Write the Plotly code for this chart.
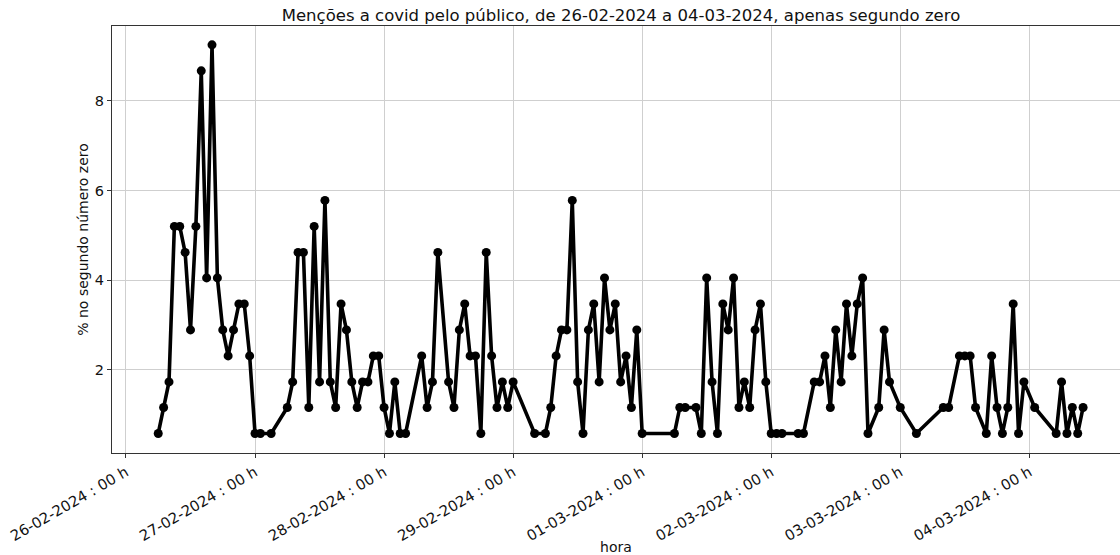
import plotly.graph_objects as go

# Hourly share of covid mentions (% no segundo número zero)
momentos = [
    # 26-02-2024
    "2024-02-26 06:00", "2024-02-26 07:00", "2024-02-26 08:00", "2024-02-26 09:00",
    "2024-02-26 10:00", "2024-02-26 11:00", "2024-02-26 12:00", "2024-02-26 13:00",
    "2024-02-26 14:00", "2024-02-26 15:00", "2024-02-26 16:00", "2024-02-26 17:00",
    "2024-02-26 18:00", "2024-02-26 19:00", "2024-02-26 20:00", "2024-02-26 21:00",
    "2024-02-26 22:00", "2024-02-26 23:00",
    # 27-02-2024
    "2024-02-27 00:00", "2024-02-27 01:00", "2024-02-27 03:00", "2024-02-27 06:00",
    "2024-02-27 07:00", "2024-02-27 08:00", "2024-02-27 09:00", "2024-02-27 10:00",
    "2024-02-27 11:00", "2024-02-27 12:00", "2024-02-27 13:00", "2024-02-27 14:00",
    "2024-02-27 15:00", "2024-02-27 16:00", "2024-02-27 17:00", "2024-02-27 18:00",
    "2024-02-27 19:00", "2024-02-27 20:00", "2024-02-27 21:00", "2024-02-27 22:00",
    "2024-02-27 23:00",
    # 28-02-2024
    "2024-02-28 00:00", "2024-02-28 01:00", "2024-02-28 02:00", "2024-02-28 03:00",
    "2024-02-28 04:00", "2024-02-28 07:00", "2024-02-28 08:00", "2024-02-28 09:00",
    "2024-02-28 10:00", "2024-02-28 12:00", "2024-02-28 13:00", "2024-02-28 14:00",
    "2024-02-28 15:00", "2024-02-28 16:00", "2024-02-28 17:00", "2024-02-28 18:00",
    "2024-02-28 19:00", "2024-02-28 20:00", "2024-02-28 21:00", "2024-02-28 22:00",
    "2024-02-28 23:00",
    # 29-02-2024
    "2024-02-29 00:00", "2024-02-29 04:00", "2024-02-29 06:00", "2024-02-29 07:00",
    "2024-02-29 08:00", "2024-02-29 09:00", "2024-02-29 10:00", "2024-02-29 11:00",
    "2024-02-29 12:00", "2024-02-29 13:00", "2024-02-29 14:00", "2024-02-29 15:00",
    "2024-02-29 16:00", "2024-02-29 17:00", "2024-02-29 18:00", "2024-02-29 19:00",
    "2024-02-29 20:00", "2024-02-29 21:00", "2024-02-29 22:00", "2024-02-29 23:00",
    # 01-03-2024
    "2024-03-01 00:00", "2024-03-01 06:00", "2024-03-01 07:00", "2024-03-01 08:00",
    "2024-03-01 10:00", "2024-03-01 11:00", "2024-03-01 12:00", "2024-03-01 13:00",
    "2024-03-01 14:00", "2024-03-01 15:00", "2024-03-01 16:00", "2024-03-01 17:00",
    "2024-03-01 18:00", "2024-03-01 19:00", "2024-03-01 20:00", "2024-03-01 21:00",
    "2024-03-01 22:00", "2024-03-01 23:00",
    # 02-03-2024
    "2024-03-02 00:00", "2024-03-02 01:00", "2024-03-02 02:00", "2024-03-02 05:00",
    "2024-03-02 06:00", "2024-03-02 08:00", "2024-03-02 09:00", "2024-03-02 10:00",
    "2024-03-02 11:00", "2024-03-02 12:00", "2024-03-02 13:00", "2024-03-02 14:00",
    "2024-03-02 15:00", "2024-03-02 16:00", "2024-03-02 17:00", "2024-03-02 18:00",
    "2024-03-02 20:00", "2024-03-02 21:00", "2024-03-02 22:00",
    # 03-03-2024
    "2024-03-03 00:00", "2024-03-03 03:00", "2024-03-03 08:00", "2024-03-03 09:00",
    "2024-03-03 11:00", "2024-03-03 12:00", "2024-03-03 13:00", "2024-03-03 14:00",
    "2024-03-03 16:00", "2024-03-03 17:00", "2024-03-03 18:00", "2024-03-03 19:00",
    "2024-03-03 20:00", "2024-03-03 21:00", "2024-03-03 22:00", "2024-03-03 23:00",
    # 04-03-2024
    "2024-03-04 01:00", "2024-03-04 05:00", "2024-03-04 06:00", "2024-03-04 07:00",
    "2024-03-04 08:00", "2024-03-04 09:00", "2024-03-04 10:00",
]

percentual = [
    # 26-02-2024
    0.58, 1.16, 1.73, 5.20, 5.20, 4.62, 2.89, 5.20, 8.67, 4.05, 9.25, 4.05,
    2.89, 2.31, 2.89, 3.47, 3.47, 2.31,
    # 27-02-2024
    0.58, 0.58, 0.58, 1.16, 1.73, 4.62, 4.62, 1.16, 5.20, 1.73, 5.78, 1.73,
    1.16, 3.47, 2.89, 1.73, 1.16, 1.73, 1.73, 2.31, 2.31,
    # 28-02-2024
    1.16, 0.58, 1.73, 0.58, 0.58, 2.31, 1.16, 1.73, 4.62, 1.73, 1.16, 2.89,
    3.47, 2.31, 2.31, 0.58, 4.62, 2.31, 1.16, 1.73, 1.16,
    # 29-02-2024
    1.73, 0.58, 0.58, 1.16, 2.31, 2.89, 2.89, 5.78, 1.73, 0.58, 2.89, 3.47,
    1.73, 4.05, 2.89, 3.47, 1.73, 2.31, 1.16, 2.89,
    # 01-03-2024
    0.58, 0.58, 1.16, 1.16, 1.16, 0.58, 4.05, 1.73, 0.58, 3.47, 2.89, 4.05,
    1.16, 1.73, 1.16, 2.89, 3.47, 1.73,
    # 02-03-2024
    0.58, 0.58, 0.58, 0.58, 0.58, 1.73, 1.73, 2.31, 1.16, 2.89, 1.73, 3.47,
    2.31, 3.47, 4.05, 0.58, 1.16, 2.89, 1.73,
    # 03-03-2024
    1.16, 0.58, 1.16, 1.16, 2.31, 2.31, 2.31, 1.16, 0.58, 2.31, 1.16, 0.58,
    1.16, 3.47, 0.58, 1.73,
    # 04-03-2024
    1.16, 0.58, 1.73, 0.58, 1.16, 0.58, 1.16,
]

dias_ticks = [
    "2024-02-26", "2024-02-27", "2024-02-28", "2024-02-29",
    "2024-03-01", "2024-03-02", "2024-03-03", "2024-03-04",
]
rotulos_ticks = [
    "26-02-2024 : 00 h", "27-02-2024 : 00 h", "28-02-2024 : 00 h", "29-02-2024 : 00 h",
    "01-03-2024 : 00 h", "02-03-2024 : 00 h", "03-03-2024 : 00 h", "04-03-2024 : 00 h",
]

FONTE = "DejaVu Sans, Arial, sans-serif"
GRADE = "#cfcfcf"
EIXO = "#333333"

fig = go.Figure(
    go.Scatter(
        x=momentos,
        y=percentual,
        mode="lines+markers",
        line=dict(color="black", width=3.6),
        marker=dict(color="black", size=9),
        showlegend=False,
        hoverinfo="x+y",
    )
)

fig.update_layout(
    width=1120,
    height=555,
    margin=dict(l=112, r=0, t=26, b=102),
    paper_bgcolor="white",
    plot_bgcolor="white",
    font=dict(family=FONTE, size=14, color="#111111"),
    title=dict(
        text="Menções a covid pelo público, de 26-02-2024 a 04-03-2024, apenas segundo zero",
        font=dict(family=FONTE, size=16.5, color="#111111"),
        x=621 / 1120,
        xref="container",
        xanchor="center",
        y=1 - 15 / 555,
        yref="container",
        yanchor="middle",
    ),
)

fig.update_xaxes(
    type="date",
    range=["2024-02-25 21:24", "2024-03-04 16:52"],
    tickmode="array",
    tickvals=dias_ticks,
    ticktext=rotulos_ticks,
    tickangle=-30,
    tickfont=dict(family=FONTE, size=14.8, color="#111111"),
    ticks="outside",
    ticklen=4,
    tickcolor=EIXO,
    showgrid=True,
    gridcolor=GRADE,
    gridwidth=1,
    showline=True,
    linecolor=EIXO,
    linewidth=1.2,
    mirror=True,
    zeroline=False,
    automargin=False,
    title=dict(text="hora", font=dict(family=FONTE, size=14, color="#111111"), standoff=4),
)

fig.update_yaxes(
    range=[0.144, 9.671],
    tickmode="array",
    tickvals=[2, 4, 6, 8],
    ticktext=["2", "4", "6", "8"],
    tickfont=dict(family=FONTE, size=14.5, color="#111111"),
    ticks="outside",
    ticklen=4,
    tickcolor=EIXO,
    showgrid=True,
    gridcolor=GRADE,
    gridwidth=1,
    showline=True,
    linecolor=EIXO,
    linewidth=1.2,
    mirror=False,
    zeroline=False,
    automargin=False,
    title=dict(text="% no segundo número zero", font=dict(family=FONTE, size=14, color="#111111"), standoff=2),
)

fig.write_html("out.html")
